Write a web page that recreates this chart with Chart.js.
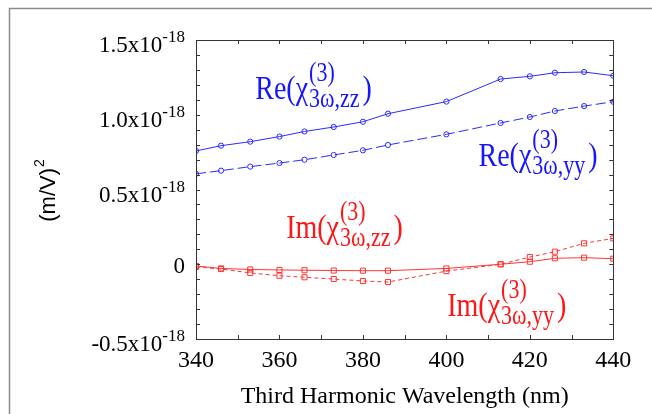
<!DOCTYPE html>
<html><head><meta charset="utf-8">
<script src="https://cdn.jsdelivr.net/npm/chart.js@4.4.0/dist/chart.umd.min.js"></script>
</head><body style="margin:0">
<div style="width:652px;height:414px"><canvas id="c" width="652" height="414"></canvas></div>
<script>
// Data (values in units of 1e-18 (m/V)^2)
const wavelengths = [340, 346, 353, 360, 366, 373, 380, 386, 400, 413, 420, 426, 433, 440];
const reZZ = [0.758, 0.793, 0.820, 0.854, 0.888, 0.918, 0.953, 1.007, 1.088, 1.239, 1.257, 1.281, 1.286, 1.261];
const reYY = [0.605, 0.626, 0.653, 0.677, 0.699, 0.731, 0.762, 0.798, 0.869, 0.945, 0.985, 1.025, 1.058, 1.087];
const imZZ = [-0.012, -0.028, -0.035, -0.038, -0.040, -0.042, -0.043, -0.043, -0.028, 0.000, 0.017, 0.040, 0.044, 0.037];
const imYY = [-0.018, -0.032, -0.058, -0.077, -0.087, -0.099, -0.112, -0.119, -0.046, 0.000, 0.048, 0.084, 0.140, 0.173];
const xTicks = [340, 360, 380, 400, 420, 440];
const yTickValues = [-0.5, 0, 0.5, 1.0, 1.5];
const yTickLabels = ['-0.5', '0', '0.5', '1.0', '1.5'];
const yExponent = '-18';
const xTitle = 'Third Harmonic Wavelength (nm)';
const yTitle = '(m/V)';
const yTitleSup = '2';
const curveLabels = [
  { part: 'Re', sub: '3\u03c9,zz', x: 354.2, y: 1.105, color: '#1515ff' },
  { part: 'Re', sub: '3\u03c9,yy', x: 407.7, y: 0.657, color: '#1515ff' },
  { part: 'Im', sub: '3\u03c9,zz', x: 361.6, y: 0.176, color: '#ff1515' },
  { part: 'Im', sub: '3\u03c9,yy', x: 400.2, y: -0.346, color: '#ff1515' }
];

const BLUE = '#2b2bff', RED = '#ff3535';
const SERIF = '"Liberation Serif", Tinos, "Times New Roman", serif';
const SANS = '"Liberation Sans", Arimo, Arial, sans-serif';
const pts = arr => wavelengths.map((x, i) => ({ x: x, y: arr[i] }));

const decor = {
  id: 'decor',
  afterDraw(chart) {
    const ctx = chart.ctx, a = chart.chartArea;
    const xs = chart.scales.x, ys = chart.scales.y;
    ctx.save();
    ctx.setLineDash([]);
    ctx.strokeStyle = '#8a8a8a'; ctx.lineWidth = 1.5;
    ctx.beginPath(); ctx.moveTo(9.5, 414); ctx.lineTo(9.5, 8.5); ctx.lineTo(652, 8.5); ctx.stroke();
    ctx.strokeStyle = '#333'; ctx.lineWidth = 1;
    ctx.strokeRect(Math.round(a.left) + 0.5, Math.round(a.top) + 0.5, Math.round(a.right - a.left), Math.round(a.bottom - a.top));
    ctx.beginPath();
    for (let v = 340; v <= 440; v += 10) {
      const p = Math.round(xs.getPixelForValue(v)) + 0.5;
      ctx.moveTo(p, a.bottom); ctx.lineTo(p, a.bottom - 4);
      ctx.moveTo(p, a.top); ctx.lineTo(p, a.top + 4);
    }
    for (let k = -5; k <= 15; k++) {
      const p = Math.round(ys.getPixelForValue(k / 10)) + 0.5;
      ctx.moveTo(a.left, p); ctx.lineTo(a.left + 4, p);
      ctx.moveTo(a.right, p); ctx.lineTo(a.right - 4, p);
    }
    ctx.stroke();
    ctx.fillStyle = '#000'; ctx.textBaseline = 'alphabetic';
    const rx = a.left - 11;
    yTickValues.forEach((v, i) => {
      const py = ys.getPixelForValue(v);
      ctx.textAlign = 'right';
      if (v === 0) {
        ctx.font = '23px ' + SERIF;
        ctx.fillText(yTickLabels[i], rx, py + 9);
        return;
      }
      ctx.font = '17px ' + SERIF;
      const wsup = ctx.measureText(yExponent).width;
      ctx.fillText(yExponent, rx, py + 2);
      ctx.font = '23px ' + SERIF;
      ctx.fillText(yTickLabels[i] + 'x10', rx - wsup, py + 12);
    });
    ctx.save();
    ctx.translate(47, 191); ctx.rotate(-Math.PI / 2);
    ctx.font = '22px ' + SANS;
    const w1 = ctx.measureText(yTitle).width;
    ctx.font = '14px ' + SANS;
    const w2 = ctx.measureText(yTitleSup).width;
    const x0 = -(w1 + w2) / 2;
    ctx.textAlign = 'left';
    ctx.font = '22px ' + SANS;
    ctx.fillText(yTitle, x0, 8);
    ctx.font = '14px ' + SANS;
    ctx.fillText(yTitleSup, x0 + w1 + 1, -3);
    ctx.restore();
    curveLabels.forEach(l => {
      const px = xs.getPixelForValue(l.x), py = ys.getPixelForValue(l.y);
      ctx.save();
      ctx.translate(px, py); ctx.scale(1, 1.2);
      ctx.fillStyle = l.color; ctx.textAlign = 'left';
      let x = 0;
      ctx.font = '28px ' + SERIF;
      const t1 = l.part + '(';
      ctx.fillText(t1, x, 0); x += ctx.measureText(t1).width;
      ctx.fillText('\u03c7', x, 0); x += ctx.measureText('\u03c7').width + 1;
      ctx.font = '22px ' + SERIF;
      ctx.fillText('(3)', x, -15);
      ctx.fillText(l.sub, x, 7);
      x += Math.max(ctx.measureText('(3)').width, ctx.measureText(l.sub).width) + 3;
      ctx.font = '28px ' + SERIF;
      ctx.fillText(')', x, 0);
      ctx.restore();
    });
    ctx.restore();
  }
};

const chart = new Chart(document.getElementById('c'), {
  type: 'line',
  data: {
    datasets: [
      { data: pts(reZZ), borderColor: BLUE, borderWidth: 1, pointStyle: 'circle', pointRadius: 2.6, pointBorderColor: BLUE, pointBackgroundColor: 'rgba(0,0,0,0)', pointBorderWidth: 1, tension: 0, fill: false },
      { data: pts(reYY), borderColor: BLUE, borderWidth: 1, borderDash: [10, 4], pointStyle: 'circle', pointRadius: 2.6, pointBorderColor: BLUE, pointBackgroundColor: 'rgba(0,0,0,0)', pointBorderWidth: 1, tension: 0, fill: false },
      { data: pts(imZZ), borderColor: RED, borderWidth: 1, pointStyle: 'rect', pointRadius: 3.6, pointBorderColor: RED, pointBackgroundColor: 'rgba(0,0,0,0)', pointBorderWidth: 1, tension: 0, fill: false },
      { data: pts(imYY), borderColor: RED, borderWidth: 1, borderDash: [4, 3], pointStyle: 'rect', pointRadius: 3.6, pointBorderColor: RED, pointBackgroundColor: 'rgba(0,0,0,0)', pointBorderWidth: 1, tension: 0, fill: false }
    ]
  },
  options: {
    responsive: false, animation: false,
    layout: { padding: { left: 0, top: 40, right: 38.7, bottom: 0 } },
    plugins: { legend: { display: false }, tooltip: { enabled: false } },
    scales: {
      x: {
        type: 'linear', min: 340, max: 440,
        afterBuildTicks: s => { s.ticks = xTicks.map(v => ({ value: v })); },
        afterFit: s => { s.height = 75; },
        ticks: { font: { family: SERIF, size: 24 }, color: '#000', padding: 7, maxRotation: 0, autoSkip: false },
        grid: { display: false, drawTicks: false },
        border: { display: false },
        title: { display: true, text: xTitle, font: { family: SERIF, size: 24 }, color: '#000', padding: { top: 0, bottom: 3 } }
      },
      y: {
        type: 'linear', min: -0.5, max: 1.5,
        afterFit: s => { s.width = 196; },
        ticks: { display: false },
        grid: { display: false, drawTicks: false },
        border: { display: false }
      }
    }
  },
  plugins: [decor]
});
if (document.fonts && document.fonts.ready) document.fonts.ready.then(() => chart.update('none'));
</script></body></html>
